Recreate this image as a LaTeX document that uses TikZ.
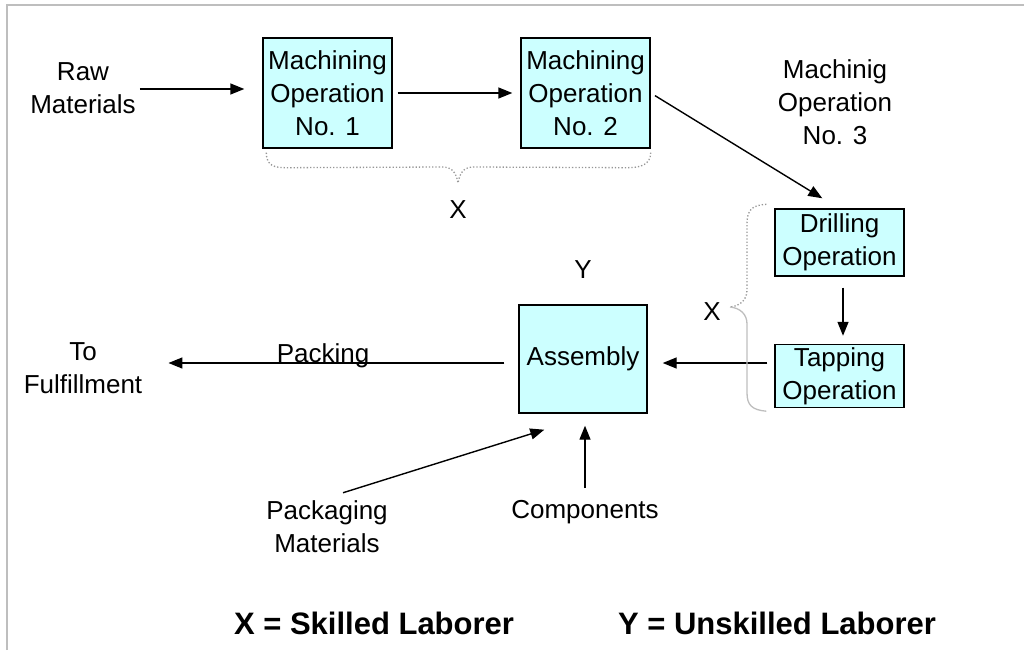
\documentclass[tikz,border=0pt]{standalone}
\usepackage{fontspec}
\setmainfont{Liberation Sans}
\usetikzlibrary{arrows.meta}
\definecolor{boxfill}{RGB}{204,255,255}
\definecolor{framegray}{RGB}{190,190,190}
\definecolor{bracegray}{RGB}{150,150,150}
\tikzset{
  opbox/.style={draw=black, line width=1.4pt, fill=boxfill, inner sep=0pt,
    align=center, font=\fontsize{26}{33}\selectfont},
  lbl/.style={inner sep=0pt, align=center, font=\fontsize{26}{33}\selectfont},
  legend/.style={inner sep=0pt, font=\fontsize{31}{36}\selectfont\bfseries},
  arr/.style={draw=black, line width=1.4pt, -{Triangle[length=14pt,width=11pt]}},
  bracedot/.style={draw=bracegray, line width=1.3pt, dotted},
  bracesolid/.style={draw=framegray, line width=1.3pt},
}
\begin{document}
\begin{tikzpicture}[x=1pt, y=-1pt]
\useasboundingbox (0,0) rectangle (1024,650);
% window frame
\draw[framegray, line width=2pt] (7,650) -- (7,5) -- (1024,5);

% process boxes
\node[opbox, minimum width=129pt, minimum height=110pt] (m1) at (327.5,93) {Machining\\Operation\\No. 1};
\node[opbox, minimum width=129pt, minimum height=110pt] (m2) at (585.5,93) {Machining\\Operation\\No. 2};
\node[opbox, minimum width=129pt, minimum height=67pt] (drill) at (839.5,242.5) {Drilling\\Operation};
\node[opbox, minimum width=129pt, minimum height=63pt] (tap) at (839.5,376) {Tapping\\Operation};
\node[opbox, minimum width=128pt, minimum height=108pt] (asm) at (583,359) {Assembly};

% free labels
\node[lbl] (raw) at (83,88) {Raw\\Materials};
\node[lbl] (op3) at (835,102) {Machinig\\Operation\\No. 3};
\node[lbl] (ful) at (83,368) {To\\Fulfillment};
\node[lbl] (pack) at (323,356) {Packing};
\node[lbl] (pkg) at (327,527) {Packaging\\Materials};
\node[lbl] (comp) at (585,512) {Components};
\node[lbl] (ylab) at (583,270) {Y};
\node[lbl] (xtop) at (458,210) {X};
\node[lbl] (xright) at (712,312) {X};

% legend
\node[legend] (legx) at (374,623) {X = Skilled Laborer};
\node[legend] (legy) at (777,623) {Y = Unskilled Laborer};

% flow arrows
\draw[arr, shorten <=4pt, shorten >=18pt] ([yshift=-1pt]raw.east) -- ([yshift=4pt]m1.west);
\draw[arr, shorten <=5pt, shorten >=8pt] (m1.east) -- (m2.east -| m2.west);
\coordinate (dtip) at ([xshift=48pt,yshift=10pt]drill.north west);
\draw[arr, shorten <=5pt] (m2.east) -- (dtip);
\draw[arr, shorten <=11pt, shorten >=8pt] ([xshift=3.5pt]drill.south) -- ([xshift=3.5pt]tap.north);
\draw[arr, shorten <=7pt, shorten >=15pt] ([yshift=13pt]tap.west) -- ([yshift=13pt]tap.west -| asm.east);
\draw[arr, shorten <=14pt, shorten >=26pt] ([yshift=-4pt]asm.west) -- ([yshift=-4pt]asm.west -| ful.east);
\coordinate (ptip) at ([xshift=26pt,yshift=-16pt]asm.south west);
\draw[arr] ([xshift=16pt,yshift=8pt]pkg.north) -- (ptip);
\draw[arr, shorten <=12pt, shorten >=12pt] (comp.north) -- (comp.north |- asm.south);

% brace under the two machining operations
\draw[bracedot] ([xshift=4pt,yshift=-4pt]m1.south west) .. controls ([xshift=4pt,yshift=-17pt]m1.south west) and ([xshift=12pt,yshift=-19pt]m1.south west) .. ([xshift=24pt,yshift=-19pt]m1.south west)
  -- (442,167) .. controls (452,167) and (456,172) .. (458,183)
  .. controls (460,172) and (464,167) .. (474,167)
  -- ([xshift=-24pt,yshift=-19pt]m2.south east) .. controls ([xshift=-12pt,yshift=-19pt]m2.south east) and ([xshift=0pt,yshift=-17pt]m2.south east) .. ([xshift=0pt,yshift=-4pt]m2.south east);

% brace beside drilling and tapping
\draw[bracedot] ([xshift=-8pt,yshift=4pt]drill.north west) .. controls (752,205) and (747,210) .. (747,224)
  -- (747,290) .. controls (747,300) and (740,306) .. (730,307);
\draw[bracesolid] (730,307) .. controls (740,308) and (747,314) .. (747,324)
  -- (747,393) .. controls (747,405) and (752,410) .. ([xshift=-8pt,yshift=-3pt]tap.south west);
\end{tikzpicture}
\end{document}
